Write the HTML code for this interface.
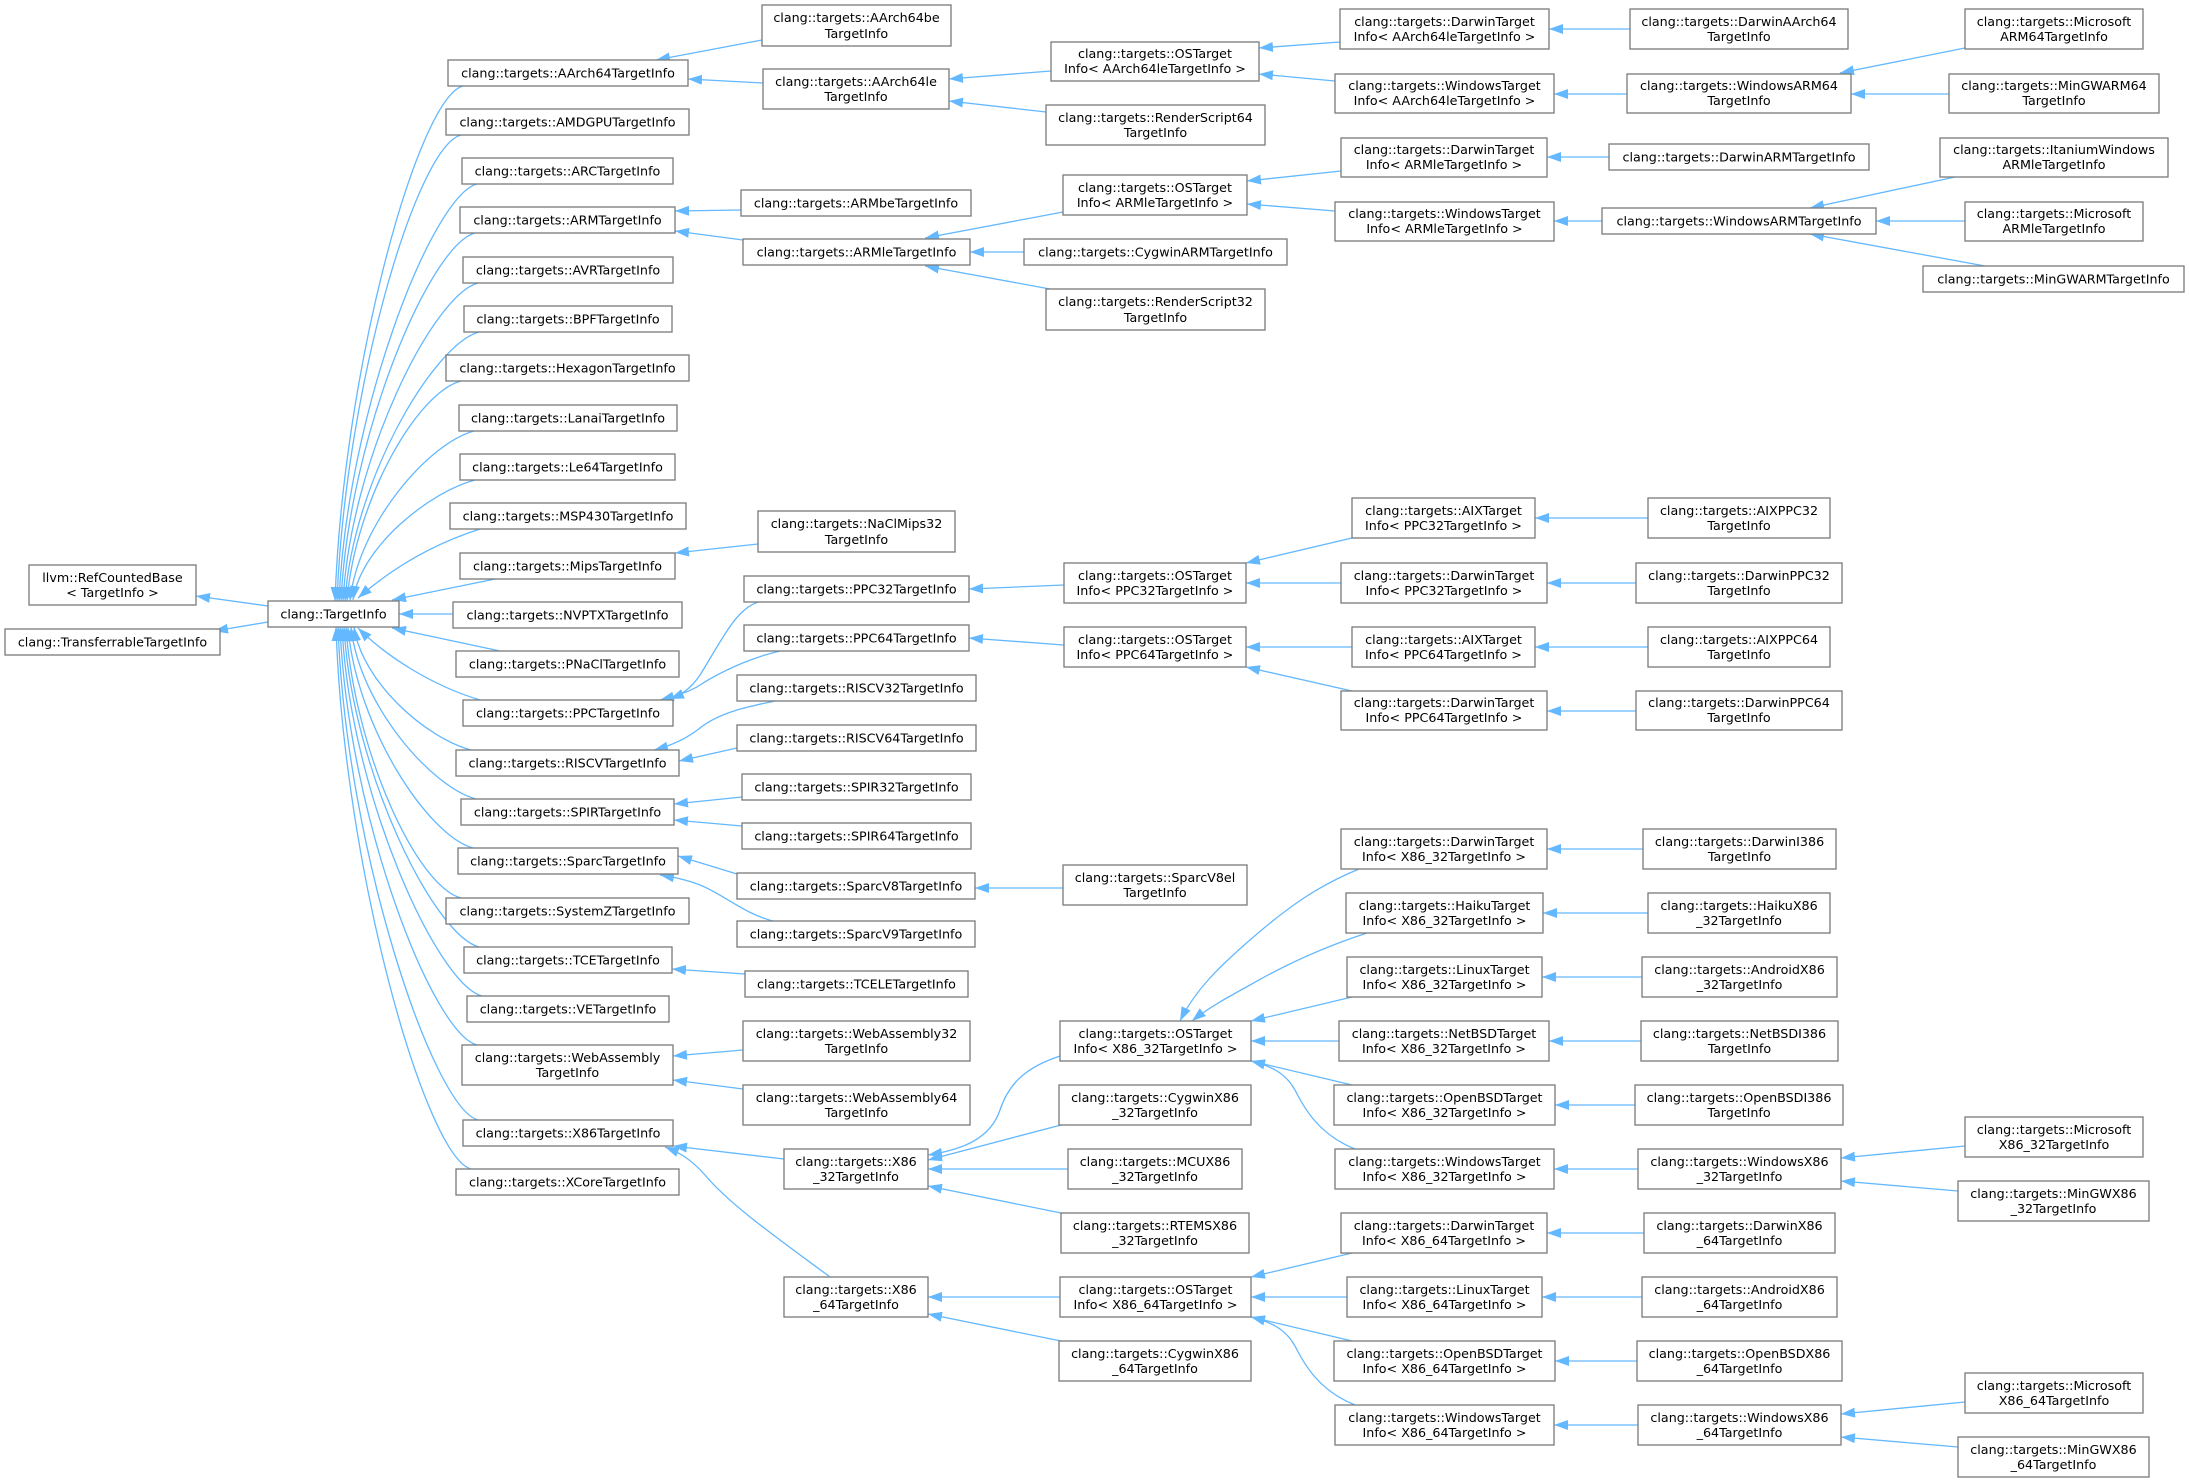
<!DOCTYPE html>
<html><head><meta charset="utf-8"><style>
html,body{margin:0;padding:0;background:#fff}
svg{display:block}
rect{fill:#fff;stroke:#7a7a7a;stroke-width:1.3}
text{font-family:"DejaVu Sans","Liberation Sans",sans-serif;font-size:12.7px;fill:#000;text-anchor:middle}
path.e{fill:none;stroke:#63b8ff;stroke-width:1.3;marker-end:url(#a)}
</style></head><body>
<svg width="2189" height="1483" viewBox="0 0 2189 1483" xmlns="http://www.w3.org/2000/svg">
<defs><marker id="a" markerUnits="userSpaceOnUse" markerWidth="14" markerHeight="10" viewBox="0 0 14 10" refX="14" refY="5" orient="auto"><path d="M0,0L14,5L0,10z" fill="#63b8ff"/></marker></defs>

<!-- edges -->
<path class="e" d="M268,606 L196,596"/>
<path class="e" d="M268,622 L214,631"/>
<path class="e" d="M463,86 C418,98 343,370 335,601"/>
<path class="e" d="M461,135 C416,147 345,391 337,601"/>
<path class="e" d="M477,184 C432,196 347,413 339,601"/>
<path class="e" d="M475,233 C430,245 349,435 341,601"/>
<path class="e" d="M478,283 C433,295 351,458 343,601"/>
<path class="e" d="M479,332 C434,344 353,480 345,601"/>
<path class="e" d="M461,381 C416,393 355,502 347,601"/>
<path class="e" d="M474,431 C429,443 358,524 350,601"/>
<path class="e" d="M475,480 C430,492 361,546 353,600"/>
<path class="e" d="M480,529 C430,545 390,570 358,598"/>
<path class="e" d="M500,578 L392,600"/>
<path class="e" d="M453,614 L399,614"/>
<path class="e" d="M500,651 L392,628"/>
<path class="e" d="M480,700 C430,685 385,655 358,628"/>
<path class="e" d="M471,750 C426,738 362,682 354,627"/>
<path class="e" d="M476,799 C431,787 359,704 351,627"/>
<path class="e" d="M473,848 C428,836 356,726 348,627"/>
<path class="e" d="M461,898 C416,886 354,749 346,627"/>
<path class="e" d="M479,947 C434,935 352,771 344,627"/>
<path class="e" d="M482,996 C437,984 350,793 342,627"/>
<path class="e" d="M477,1045 C432,1033 348,815 340,627"/>
<path class="e" d="M478,1120 C433,1108 346,849 338,627"/>
<path class="e" d="M471,1169 C426,1157 344,871 336,627"/>

<path class="e" d="M762,40 L656,60"/>
<path class="e" d="M763,83 L688,79"/>
<path class="e" d="M741,210 L675,211"/>
<path class="e" d="M743,240 L675,231"/>
<path class="e" d="M758,544 L675,553"/>
<path class="e" d="M758,602 C735,610 722,640 700,675 C690,690 680,695 670,699"/>
<path class="e" d="M780,651 C750,658 720,672 700,685 C690,692 672,697 660,700"/>
<path class="e" d="M780,700 C750,706 720,712 700,728 C685,740 670,746 654,750"/>
<path class="e" d="M737,748 L679,761"/>
<path class="e" d="M742,797 L674,804"/>
<path class="e" d="M742,826 L674,820"/>
<path class="e" d="M737,874 L678,856"/>
<path class="e" d="M777,922 C745,915 725,895 700,885 C685,879 672,877 660,875"/>
<path class="e" d="M745,974 L672,969"/>
<path class="e" d="M743,1050 L673,1056"/>
<path class="e" d="M743,1089 L673,1080"/>
<path class="e" d="M784,1159 L673,1146"/>
<path class="e" d="M830,1277 C780,1240 730,1205 705,1175 C690,1158 678,1152 665,1147"/>

<path class="e" d="M1051,71 L949,79"/>
<path class="e" d="M1046,112 L949,101"/>
<path class="e" d="M1063,212 L925,238"/>
<path class="e" d="M1024,252 L970,252"/>
<path class="e" d="M1050,289 L925,266"/>
<path class="e" d="M1064,585 L969,589"/>
<path class="e" d="M1064,645 L969,638"/>
<path class="e" d="M1063,888 L975,888"/>
<path class="e" d="M1060,1056 C1030,1066 1010,1080 1000,1110 C990,1140 960,1150 928,1155"/>
<path class="e" d="M1061,1125 L928,1160"/>
<path class="e" d="M1068,1169 L928,1169"/>
<path class="e" d="M1061,1213 L928,1186"/>
<path class="e" d="M1060,1297 L928,1297"/>
<path class="e" d="M1061,1341 L928,1314"/>

<path class="e" d="M1340,42 L1259,48"/>
<path class="e" d="M1335,81 L1259,74"/>
<path class="e" d="M1341,171 L1247,181"/>
<path class="e" d="M1335,211 L1247,204"/>
<path class="e" d="M1352,538 L1246,563"/>
<path class="e" d="M1341,583 L1246,583"/>
<path class="e" d="M1352,647 L1246,647"/>
<path class="e" d="M1352,691 L1246,667"/>
<path class="e" d="M1359,869 C1320,885 1290,905 1250,940 C1220,966 1195,990 1180,1021"/>
<path class="e" d="M1367,933 C1330,945 1290,962 1250,985 C1230,996 1208,1008 1192,1021"/>
<path class="e" d="M1352,997 L1251,1021"/>
<path class="e" d="M1339,1041 L1251,1041"/>
<path class="e" d="M1352,1085 L1251,1061"/>
<path class="e" d="M1355,1149 C1320,1135 1305,1110 1295,1090 C1285,1072 1270,1066 1251,1061"/>
<path class="e" d="M1352,1253 L1251,1277"/>
<path class="e" d="M1347,1297 L1251,1297"/>
<path class="e" d="M1352,1341 L1251,1317"/>
<path class="e" d="M1355,1405 C1320,1391 1305,1366 1295,1346 C1285,1328 1270,1322 1251,1317"/>

<path class="e" d="M1630,29 L1549,29"/>
<path class="e" d="M1627,94 L1554,94"/>
<path class="e" d="M1609,157 L1547,157"/>
<path class="e" d="M1602,221 L1554,221"/>
<path class="e" d="M1648,518 L1535,518"/>
<path class="e" d="M1636,583 L1547,583"/>
<path class="e" d="M1648,647 L1535,647"/>
<path class="e" d="M1636,711 L1547,711"/>
<path class="e" d="M1643,849 L1547,849"/>
<path class="e" d="M1648,913 L1543,913"/>
<path class="e" d="M1642,977 L1542,977"/>
<path class="e" d="M1641,1041 L1549,1041"/>
<path class="e" d="M1635,1105 L1555,1105"/>
<path class="e" d="M1638,1169 L1554,1169"/>
<path class="e" d="M1644,1233 L1547,1233"/>
<path class="e" d="M1642,1297 L1542,1297"/>
<path class="e" d="M1637,1361 L1555,1361"/>
<path class="e" d="M1638,1425 L1554,1425"/>

<path class="e" d="M1965,48 L1840,73"/>
<path class="e" d="M1949,94 L1851,94"/>
<path class="e" d="M1955,177 L1810,208"/>
<path class="e" d="M1965,221 L1876,221"/>
<path class="e" d="M1985,266 L1810,234"/>
<path class="e" d="M1965,1146 L1841,1158"/>
<path class="e" d="M1958,1191 L1841,1181"/>
<path class="e" d="M1965,1402 L1841,1414"/>
<path class="e" d="M1958,1447 L1841,1437"/>

<!-- col0 -->
<rect x="29" y="565" width="167" height="40"/><text x="112.5" y="582">llvm::RefCountedBase</text><text x="112.5" y="597">&lt; TargetInfo &gt;</text>
<rect x="5" y="629" width="215" height="26"/><text x="112.5" y="646.5">clang::TransferrableTargetInfo</text>
<rect x="268" y="601" width="131" height="26"/><text x="333.5" y="618.5">clang::TargetInfo</text>

<!-- col1 -->
<rect x="448" y="60" width="240" height="26"/><text x="568" y="77.5">clang::targets::AArch64TargetInfo</text>
<rect x="446" y="109" width="243" height="26"/><text x="567.5" y="126.5">clang::targets::AMDGPUTargetInfo</text>
<rect x="462" y="158" width="211" height="26"/><text x="567.5" y="175.5">clang::targets::ARCTargetInfo</text>
<rect x="460" y="207" width="215" height="26"/><text x="567.5" y="224.5">clang::targets::ARMTargetInfo</text>
<rect x="463" y="257" width="210" height="26"/><text x="568" y="274.5">clang::targets::AVRTargetInfo</text>
<rect x="464" y="306" width="208" height="26"/><text x="568" y="323.5">clang::targets::BPFTargetInfo</text>
<rect x="446" y="355" width="243" height="26"/><text x="567.5" y="372.5">clang::targets::HexagonTargetInfo</text>
<rect x="459" y="405" width="218" height="26"/><text x="568" y="422.5">clang::targets::LanaiTargetInfo</text>
<rect x="460" y="454" width="215" height="26"/><text x="567.5" y="471.5">clang::targets::Le64TargetInfo</text>
<rect x="450" y="503" width="236" height="26"/><text x="568" y="520.5">clang::targets::MSP430TargetInfo</text>
<rect x="460" y="553" width="215" height="26"/><text x="567.5" y="570.5">clang::targets::MipsTargetInfo</text>
<rect x="453" y="602" width="229" height="26"/><text x="567.5" y="619.5">clang::targets::NVPTXTargetInfo</text>
<rect x="456" y="651" width="223" height="26"/><text x="567.5" y="668.5">clang::targets::PNaClTargetInfo</text>
<rect x="463" y="700" width="210" height="26"/><text x="568" y="717.5">clang::targets::PPCTargetInfo</text>
<rect x="456" y="750" width="223" height="26"/><text x="567.5" y="767.5">clang::targets::RISCVTargetInfo</text>
<rect x="461" y="799" width="213" height="26"/><text x="567.5" y="816.5">clang::targets::SPIRTargetInfo</text>
<rect x="458" y="848" width="220" height="26"/><text x="568" y="865.5">clang::targets::SparcTargetInfo</text>
<rect x="446" y="898" width="243" height="26"/><text x="567.5" y="915.5">clang::targets::SystemZTargetInfo</text>
<rect x="464" y="947" width="208" height="26"/><text x="568" y="964.5">clang::targets::TCETargetInfo</text>
<rect x="467" y="996" width="202" height="26"/><text x="568" y="1013.5">clang::targets::VETargetInfo</text>
<rect x="462" y="1045" width="211" height="40"/><text x="567.5" y="1062">clang::targets::WebAssembly</text><text x="567.5" y="1077">TargetInfo</text>
<rect x="463" y="1120" width="210" height="26"/><text x="568" y="1137.5">clang::targets::X86TargetInfo</text>
<rect x="456" y="1169" width="223" height="26"/><text x="567.5" y="1186.5">clang::targets::XCoreTargetInfo</text>

<!-- col2 -->
<rect x="762" y="5" width="189" height="41"/><text x="856.5" y="22">clang::targets::AArch64be</text><text x="856.5" y="38">TargetInfo</text>
<rect x="763" y="69" width="186" height="40"/><text x="856" y="86">clang::targets::AArch64le</text><text x="856" y="101">TargetInfo</text>
<rect x="741" y="190" width="230" height="26"/><text x="856" y="207.5">clang::targets::ARMbeTargetInfo</text>
<rect x="743" y="239" width="227" height="26"/><text x="856.5" y="256.5">clang::targets::ARMleTargetInfo</text>
<rect x="758" y="511" width="197" height="41"/><text x="856.5" y="528">clang::targets::NaClMips32</text><text x="856.5" y="544">TargetInfo</text>
<rect x="744" y="576" width="225" height="26"/><text x="856.5" y="593.5">clang::targets::PPC32TargetInfo</text>
<rect x="744" y="625" width="225" height="26"/><text x="856.5" y="642.5">clang::targets::PPC64TargetInfo</text>
<rect x="737" y="675" width="239" height="26"/><text x="856.5" y="692.5">clang::targets::RISCV32TargetInfo</text>
<rect x="737" y="725" width="239" height="26"/><text x="856.5" y="742.5">clang::targets::RISCV64TargetInfo</text>
<rect x="742" y="774" width="229" height="26"/><text x="856.5" y="791.5">clang::targets::SPIR32TargetInfo</text>
<rect x="742" y="823" width="229" height="26"/><text x="856.5" y="840.5">clang::targets::SPIR64TargetInfo</text>
<rect x="737" y="873" width="238" height="26"/><text x="856" y="890.5">clang::targets::SparcV8TargetInfo</text>
<rect x="737" y="921" width="238" height="26"/><text x="856" y="938.5">clang::targets::SparcV9TargetInfo</text>
<rect x="745" y="971" width="223" height="26"/><text x="856.5" y="988.5">clang::targets::TCELETargetInfo</text>
<rect x="743" y="1021" width="227" height="40"/><text x="856.5" y="1038">clang::targets::WebAssembly32</text><text x="856.5" y="1053">TargetInfo</text>
<rect x="743" y="1085" width="227" height="40"/><text x="856.5" y="1102">clang::targets::WebAssembly64</text><text x="856.5" y="1117">TargetInfo</text>
<rect x="784" y="1149" width="144" height="40"/><text x="856" y="1166">clang::targets::X86</text><text x="856" y="1181">_32TargetInfo</text>
<rect x="784" y="1277" width="144" height="40"/><text x="856" y="1294">clang::targets::X86</text><text x="856" y="1309">_64TargetInfo</text>

<!-- col3 -->
<rect x="1051" y="42" width="208" height="39"/><text x="1155" y="58">clang::targets::OSTarget</text><text x="1155" y="73">Info&lt; AArch64leTargetInfo &gt;</text>
<rect x="1046" y="105" width="219" height="40"/><text x="1155.5" y="122">clang::targets::RenderScript64</text><text x="1155.5" y="137">TargetInfo</text>
<rect x="1063" y="175" width="184" height="40"/><text x="1155" y="192">clang::targets::OSTarget</text><text x="1155" y="207">Info&lt; ARMleTargetInfo &gt;</text>
<rect x="1024" y="239" width="263" height="26"/><text x="1155.5" y="256.5">clang::targets::CygwinARMTargetInfo</text>
<rect x="1046" y="289" width="219" height="41"/><text x="1155.5" y="306">clang::targets::RenderScript32</text><text x="1155.5" y="322">TargetInfo</text>
<rect x="1064" y="563" width="182" height="40"/><text x="1155" y="580">clang::targets::OSTarget</text><text x="1155" y="595">Info&lt; PPC32TargetInfo &gt;</text>
<rect x="1064" y="627" width="182" height="40"/><text x="1155" y="644">clang::targets::OSTarget</text><text x="1155" y="659">Info&lt; PPC64TargetInfo &gt;</text>
<rect x="1063" y="865" width="184" height="40"/><text x="1155" y="882">clang::targets::SparcV8el</text><text x="1155" y="897">TargetInfo</text>
<rect x="1060" y="1021" width="191" height="40"/><text x="1155.5" y="1038">clang::targets::OSTarget</text><text x="1155.5" y="1053">Info&lt; X86_32TargetInfo &gt;</text>
<rect x="1059" y="1085" width="192" height="40"/><text x="1155" y="1102">clang::targets::CygwinX86</text><text x="1155" y="1117">_32TargetInfo</text>
<rect x="1068" y="1149" width="174" height="40"/><text x="1155" y="1166">clang::targets::MCUX86</text><text x="1155" y="1181">_32TargetInfo</text>
<rect x="1061" y="1213" width="188" height="40"/><text x="1155" y="1230">clang::targets::RTEMSX86</text><text x="1155" y="1245">_32TargetInfo</text>
<rect x="1060" y="1277" width="191" height="40"/><text x="1155.5" y="1294">clang::targets::OSTarget</text><text x="1155.5" y="1309">Info&lt; X86_64TargetInfo &gt;</text>
<rect x="1059" y="1341" width="192" height="40"/><text x="1155" y="1358">clang::targets::CygwinX86</text><text x="1155" y="1373">_64TargetInfo</text>

<!-- col4 -->
<rect x="1340" y="9" width="209" height="40"/><text x="1444.5" y="26">clang::targets::DarwinTarget</text><text x="1444.5" y="41">Info&lt; AArch64leTargetInfo &gt;</text>
<rect x="1335" y="74" width="219" height="39"/><text x="1444.5" y="90">clang::targets::WindowsTarget</text><text x="1444.5" y="105">Info&lt; AArch64leTargetInfo &gt;</text>
<rect x="1341" y="138" width="206" height="39"/><text x="1444" y="154">clang::targets::DarwinTarget</text><text x="1444" y="169">Info&lt; ARMleTargetInfo &gt;</text>
<rect x="1335" y="202" width="219" height="39"/><text x="1444.5" y="218">clang::targets::WindowsTarget</text><text x="1444.5" y="233">Info&lt; ARMleTargetInfo &gt;</text>
<rect x="1352" y="498" width="183" height="40"/><text x="1443.5" y="515">clang::targets::AIXTarget</text><text x="1443.5" y="530">Info&lt; PPC32TargetInfo &gt;</text>
<rect x="1341" y="563" width="206" height="40"/><text x="1444" y="580">clang::targets::DarwinTarget</text><text x="1444" y="595">Info&lt; PPC32TargetInfo &gt;</text>
<rect x="1352" y="627" width="183" height="40"/><text x="1443.5" y="644">clang::targets::AIXTarget</text><text x="1443.5" y="659">Info&lt; PPC64TargetInfo &gt;</text>
<rect x="1341" y="691" width="206" height="39"/><text x="1444" y="707">clang::targets::DarwinTarget</text><text x="1444" y="722">Info&lt; PPC64TargetInfo &gt;</text>
<rect x="1341" y="829" width="206" height="40"/><text x="1444" y="846">clang::targets::DarwinTarget</text><text x="1444" y="861">Info&lt; X86_32TargetInfo &gt;</text>
<rect x="1346" y="893" width="197" height="40"/><text x="1444.5" y="910">clang::targets::HaikuTarget</text><text x="1444.5" y="925">Info&lt; X86_32TargetInfo &gt;</text>
<rect x="1347" y="957" width="195" height="40"/><text x="1444.5" y="974">clang::targets::LinuxTarget</text><text x="1444.5" y="989">Info&lt; X86_32TargetInfo &gt;</text>
<rect x="1339" y="1021" width="210" height="40"/><text x="1444" y="1038">clang::targets::NetBSDTarget</text><text x="1444" y="1053">Info&lt; X86_32TargetInfo &gt;</text>
<rect x="1334" y="1085" width="221" height="40"/><text x="1444.5" y="1102">clang::targets::OpenBSDTarget</text><text x="1444.5" y="1117">Info&lt; X86_32TargetInfo &gt;</text>
<rect x="1335" y="1149" width="219" height="40"/><text x="1444.5" y="1166">clang::targets::WindowsTarget</text><text x="1444.5" y="1181">Info&lt; X86_32TargetInfo &gt;</text>
<rect x="1341" y="1213" width="206" height="40"/><text x="1444" y="1230">clang::targets::DarwinTarget</text><text x="1444" y="1245">Info&lt; X86_64TargetInfo &gt;</text>
<rect x="1347" y="1277" width="195" height="40"/><text x="1444.5" y="1294">clang::targets::LinuxTarget</text><text x="1444.5" y="1309">Info&lt; X86_64TargetInfo &gt;</text>
<rect x="1334" y="1341" width="221" height="40"/><text x="1444.5" y="1358">clang::targets::OpenBSDTarget</text><text x="1444.5" y="1373">Info&lt; X86_64TargetInfo &gt;</text>
<rect x="1335" y="1405" width="219" height="40"/><text x="1444.5" y="1422">clang::targets::WindowsTarget</text><text x="1444.5" y="1437">Info&lt; X86_64TargetInfo &gt;</text>

<!-- col5 -->
<rect x="1630" y="9" width="218" height="40"/><text x="1739" y="26">clang::targets::DarwinAArch64</text><text x="1739" y="41">TargetInfo</text>
<rect x="1627" y="74" width="224" height="39"/><text x="1739" y="90">clang::targets::WindowsARM64</text><text x="1739" y="105">TargetInfo</text>
<rect x="1609" y="144" width="260" height="26"/><text x="1739" y="161.5">clang::targets::DarwinARMTargetInfo</text>
<rect x="1602" y="208" width="274" height="26"/><text x="1739" y="225.5">clang::targets::WindowsARMTargetInfo</text>
<rect x="1648" y="498" width="182" height="40"/><text x="1739" y="515">clang::targets::AIXPPC32</text><text x="1739" y="530">TargetInfo</text>
<rect x="1636" y="563" width="206" height="40"/><text x="1739" y="580">clang::targets::DarwinPPC32</text><text x="1739" y="595">TargetInfo</text>
<rect x="1648" y="627" width="182" height="40"/><text x="1739" y="644">clang::targets::AIXPPC64</text><text x="1739" y="659">TargetInfo</text>
<rect x="1636" y="691" width="206" height="39"/><text x="1739" y="707">clang::targets::DarwinPPC64</text><text x="1739" y="722">TargetInfo</text>
<rect x="1643" y="829" width="193" height="40"/><text x="1739.5" y="846">clang::targets::DarwinI386</text><text x="1739.5" y="861">TargetInfo</text>
<rect x="1648" y="893" width="182" height="40"/><text x="1739" y="910">clang::targets::HaikuX86</text><text x="1739" y="925">_32TargetInfo</text>
<rect x="1642" y="957" width="195" height="40"/><text x="1739.5" y="974">clang::targets::AndroidX86</text><text x="1739.5" y="989">_32TargetInfo</text>
<rect x="1641" y="1021" width="197" height="40"/><text x="1739.5" y="1038">clang::targets::NetBSDI386</text><text x="1739.5" y="1053">TargetInfo</text>
<rect x="1635" y="1085" width="208" height="40"/><text x="1739" y="1102">clang::targets::OpenBSDI386</text><text x="1739" y="1117">TargetInfo</text>
<rect x="1638" y="1149" width="203" height="40"/><text x="1739.5" y="1166">clang::targets::WindowsX86</text><text x="1739.5" y="1181">_32TargetInfo</text>
<rect x="1644" y="1213" width="191" height="40"/><text x="1739.5" y="1230">clang::targets::DarwinX86</text><text x="1739.5" y="1245">_64TargetInfo</text>
<rect x="1642" y="1277" width="195" height="40"/><text x="1739.5" y="1294">clang::targets::AndroidX86</text><text x="1739.5" y="1309">_64TargetInfo</text>
<rect x="1637" y="1341" width="205" height="40"/><text x="1739.5" y="1358">clang::targets::OpenBSDX86</text><text x="1739.5" y="1373">_64TargetInfo</text>
<rect x="1638" y="1405" width="203" height="40"/><text x="1739.5" y="1422">clang::targets::WindowsX86</text><text x="1739.5" y="1437">_64TargetInfo</text>

<!-- col6 -->
<rect x="1965" y="9" width="178" height="40"/><text x="2054" y="26">clang::targets::Microsoft</text><text x="2054" y="41">ARM64TargetInfo</text>
<rect x="1949" y="74" width="210" height="39"/><text x="2054" y="90">clang::targets::MinGWARM64</text><text x="2054" y="105">TargetInfo</text>
<rect x="1940" y="138" width="228" height="39"/><text x="2054" y="154">clang::targets::ItaniumWindows</text><text x="2054" y="169">ARMleTargetInfo</text>
<rect x="1965" y="202" width="178" height="39"/><text x="2054" y="218">clang::targets::Microsoft</text><text x="2054" y="233">ARMleTargetInfo</text>
<rect x="1923" y="266" width="261" height="26"/><text x="2053.5" y="283.5">clang::targets::MinGWARMTargetInfo</text>
<rect x="1965" y="1117" width="178" height="40"/><text x="2054" y="1134">clang::targets::Microsoft</text><text x="2054" y="1149">X86_32TargetInfo</text>
<rect x="1958" y="1181" width="191" height="40"/><text x="2053.5" y="1198">clang::targets::MinGWX86</text><text x="2053.5" y="1213">_32TargetInfo</text>
<rect x="1965" y="1373" width="178" height="40"/><text x="2054" y="1390">clang::targets::Microsoft</text><text x="2054" y="1405">X86_64TargetInfo</text>
<rect x="1958" y="1437" width="191" height="40"/><text x="2053.5" y="1454">clang::targets::MinGWX86</text><text x="2053.5" y="1469">_64TargetInfo</text>
</svg>
</body></html>
